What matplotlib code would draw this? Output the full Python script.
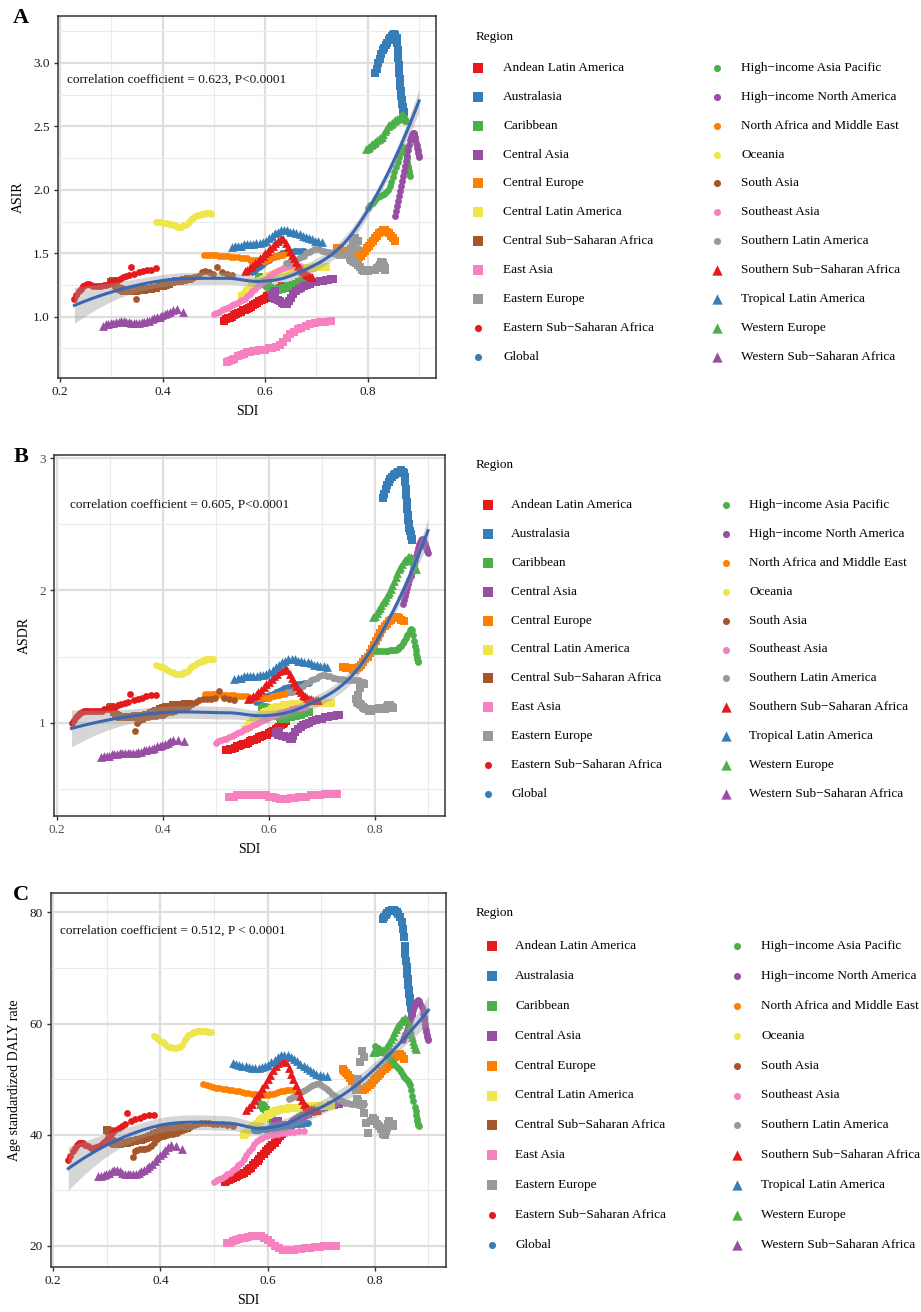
import numpy as np
import matplotlib
matplotlib.use("Agg")
import matplotlib.pyplot as plt
from matplotlib.ticker import MultipleLocator, FormatStrFormatter

plt.rcParams['font.family'] = ['Liberation Serif', 'DejaVu Serif']

regions = ['Andean Latin America', 'Australasia', 'Caribbean', 'Central Asia',
           'Central Europe', 'Central Latin America', 'Central Sub\u2212Saharan Africa',
           'East Asia', 'Eastern Europe', 'Eastern Sub\u2212Saharan Africa', 'Global',
           'High\u2212income Asia Pacific', 'High\u2212income North America',
           'North Africa and Middle East', 'Oceania', 'South Asia', 'Southeast Asia',
           'Southern Latin America', 'Southern Sub\u2212Saharan Africa',
           'Tropical Latin America', 'Western Europe', 'Western Sub\u2212Saharan Africa']

# SDI and rates per region, 1990-2019
sdi_andean = [0.520, 0.523, 0.527, 0.531, 0.536, 0.540, 0.543, 0.547, 0.552, 0.556,
              0.561, 0.565, 0.568, 0.572, 0.577, 0.581, 0.584, 0.588, 0.593, 0.597,
              0.601, 0.604, 0.608, 0.613, 0.617, 0.620, 0.623, 0.626, 0.629, 0.632]
asir_andean = [0.97, 0.98, 0.99, 0.99, 1.00, 1.01, 1.02, 1.03, 1.04, 1.05,
               1.05, 1.06, 1.07, 1.08, 1.09, 1.10, 1.11, 1.12, 1.13, 1.14,
               1.15, 1.16, 1.17, 1.18, 1.19, 1.20, 1.21, 1.22, 1.23, 1.24]
asdr_andean = [0.79, 0.79, 0.80, 0.80, 0.81, 0.82, 0.82, 0.83, 0.84, 0.84,
               0.85, 0.86, 0.87, 0.87, 0.88, 0.89, 0.89, 0.90, 0.91, 0.91,
               0.92, 0.93, 0.94, 0.95, 0.96, 0.97, 0.98, 0.99, 1.00, 1.01]
daly_andean = [31.5, 31.6, 31.8, 32.0, 32.2, 32.4, 32.6, 32.8, 33.0, 33.2,
               33.5, 33.8, 34.1, 34.5, 34.9, 35.3, 35.7, 36.2, 36.6, 37.0,
               37.4, 37.8, 38.2, 38.6, 39.0, 39.4, 39.8, 40.2, 40.5, 40.8]

sdi_australasia = [0.815, 0.817, 0.820, 0.823, 0.826, 0.829, 0.832, 0.835, 0.838, 0.841,
                   0.844, 0.847, 0.850, 0.852, 0.854, 0.856, 0.857, 0.858, 0.859, 0.860,
                   0.861, 0.862, 0.863, 0.864, 0.865, 0.866, 0.867, 0.868, 0.869, 0.870]
asir_australasia = [2.92, 2.95, 3.00, 3.03, 3.07, 3.10, 3.12, 3.14, 3.16, 3.18,
                    3.20, 3.21, 3.22, 3.23, 3.22, 3.20, 3.16, 3.10, 3.04, 2.98,
                    2.92, 2.87, 2.82, 2.78, 2.74, 2.71, 2.68, 2.65, 2.63, 2.61]
asdr_australasia = [2.70, 2.73, 2.77, 2.80, 2.82, 2.84, 2.86, 2.87, 2.88, 2.89,
                    2.90, 2.90, 2.91, 2.90, 2.89, 2.86, 2.82, 2.77, 2.72, 2.67,
                    2.62, 2.57, 2.53, 2.50, 2.47, 2.45, 2.43, 2.41, 2.39, 2.38]
daly_australasia = [78.8, 79.2, 79.6, 79.9, 80.2, 80.3, 80.4, 80.4, 80.3, 80.1,
                    79.8, 79.2, 78.3, 77.0, 75.6, 74.0, 72.6, 71.3, 70.1, 69.0,
                    68.0, 67.0, 66.1, 65.3, 64.6, 63.9, 63.3, 62.8, 62.3, 61.9]

sdi_caribbean = [0.588, 0.591, 0.594, 0.597, 0.600, 0.603, 0.606, 0.609, 0.612, 0.615,
                 0.618, 0.621, 0.624, 0.627, 0.630, 0.633, 0.636, 0.639, 0.642, 0.645,
                 0.648, 0.651, 0.654, 0.657, 0.660, 0.663, 0.666, 0.669, 0.672, 0.675]
asir_caribbean = [1.31, 1.30, 1.29, 1.28, 1.26, 1.25, 1.24, 1.23, 1.22, 1.22,
                  1.21, 1.21, 1.21, 1.22, 1.22, 1.22, 1.23, 1.23, 1.23, 1.24,
                  1.24, 1.24, 1.25, 1.25, 1.26, 1.26, 1.27, 1.27, 1.28, 1.28]
asdr_caribbean = [1.12, 1.12, 1.11, 1.11, 1.10, 1.10, 1.09, 1.08, 1.07, 1.06,
                  1.05, 1.04, 1.03, 1.03, 1.03, 1.03, 1.04, 1.04, 1.04, 1.05,
                  1.05, 1.05, 1.06, 1.06, 1.06, 1.07, 1.07, 1.08, 1.08, 1.08]
daly_caribbean = [45.3, 45.1, 44.8, 44.5, 44.1, 43.6, 43.0, 42.5, 42.0, 41.6,
                  41.3, 41.1, 41.0, 41.0, 41.1, 41.2, 41.4, 41.6, 41.8, 42.0,
                  42.2, 42.4, 42.6, 42.8, 43.0, 43.2, 43.4, 43.6, 43.8, 44.0]

sdi_central_asia = [0.620, 0.617, 0.615, 0.614, 0.615, 0.617, 0.620, 0.624, 0.628, 0.632,
                    0.636, 0.640, 0.643, 0.646, 0.650, 0.655, 0.660, 0.665, 0.670, 0.676,
                    0.682, 0.688, 0.694, 0.700, 0.706, 0.712, 0.718, 0.723, 0.728, 0.733]
asir_central_asia = [1.20, 1.19, 1.18, 1.17, 1.16, 1.15, 1.14, 1.13, 1.12, 1.11,
                     1.10, 1.10, 1.10, 1.12, 1.15, 1.18, 1.20, 1.22, 1.23, 1.24,
                     1.25, 1.26, 1.27, 1.27, 1.28, 1.28, 1.29, 1.29, 1.30, 1.30]
asdr_central_asia = [0.94, 0.93, 0.93, 0.92, 0.92, 0.91, 0.91, 0.90, 0.90, 0.89,
                     0.89, 0.88, 0.88, 0.90, 0.93, 0.95, 0.97, 0.98, 0.99, 1.00,
                     1.01, 1.02, 1.03, 1.03, 1.04, 1.04, 1.05, 1.05, 1.06, 1.06]
daly_central_asia = [42.5, 42.4, 42.3, 42.2, 42.1, 42.0, 41.9, 41.8, 41.8, 41.7,
                     41.7, 41.7, 41.8, 42.0, 42.3, 42.6, 42.9, 43.2, 43.5, 43.8,
                     44.1, 44.4, 44.6, 44.8, 45.0, 45.2, 45.3, 45.4, 45.5, 45.6]

sdi_central_europe = [0.740, 0.743, 0.746, 0.750, 0.754, 0.758, 0.762, 0.766, 0.770, 0.774,
                      0.778, 0.782, 0.786, 0.790, 0.794, 0.798, 0.802, 0.806, 0.810, 0.814,
                      0.818, 0.822, 0.826, 0.830, 0.834, 0.838, 0.842, 0.846, 0.850, 0.854]
asir_central_europe = [1.54, 1.53, 1.53, 1.52, 1.52, 1.51, 1.51, 1.50, 1.49, 1.48,
                       1.47, 1.47, 1.48, 1.50, 1.52, 1.54, 1.56, 1.58, 1.60, 1.62,
                       1.64, 1.66, 1.67, 1.68, 1.68, 1.67, 1.66, 1.64, 1.62, 1.60]
asdr_central_europe = [1.42, 1.42, 1.41, 1.41, 1.41, 1.40, 1.40, 1.41, 1.42, 1.44,
                       1.46, 1.48, 1.50, 1.53, 1.56, 1.59, 1.62, 1.65, 1.68, 1.71,
                       1.73, 1.75, 1.77, 1.78, 1.79, 1.80, 1.80, 1.79, 1.78, 1.77]
daly_central_europe = [51.8, 51.5, 51.1, 50.7, 50.2, 49.7, 49.2, 48.7, 48.3, 48.0,
                       48.0, 48.2, 48.6, 49.0, 49.4, 49.8, 50.2, 50.6, 51.0, 51.4,
                       51.8, 52.2, 52.6, 53.0, 53.5, 54.0, 54.4, 54.6, 54.2, 53.6]

sdi_central_latam = [0.555, 0.560, 0.565, 0.570, 0.575, 0.580, 0.585, 0.590, 0.595, 0.600,
                     0.605, 0.610, 0.616, 0.622, 0.628, 0.634, 0.640, 0.646, 0.652, 0.658,
                     0.664, 0.670, 0.676, 0.682, 0.688, 0.694, 0.700, 0.706, 0.712, 0.718]
asir_central_latam = [1.16, 1.18, 1.20, 1.22, 1.24, 1.26, 1.27, 1.28, 1.29, 1.30,
                      1.31, 1.32, 1.33, 1.34, 1.35, 1.35, 1.36, 1.36, 1.37, 1.37,
                      1.37, 1.38, 1.38, 1.38, 1.38, 1.38, 1.39, 1.39, 1.39, 1.39]
asdr_central_latam = [0.95, 0.97, 0.99, 1.01, 1.02, 1.04, 1.05, 1.07, 1.08, 1.09,
                      1.10, 1.11, 1.12, 1.12, 1.13, 1.13, 1.13, 1.14, 1.14, 1.14,
                      1.14, 1.14, 1.15, 1.15, 1.15, 1.15, 1.15, 1.15, 1.15, 1.15]
daly_central_latam = [40.0, 40.4, 40.8, 41.2, 41.6, 42.0, 42.4, 42.8, 43.2, 43.5,
                      43.8, 44.1, 44.3, 44.5, 44.6, 44.7, 44.8, 44.8, 44.9, 44.9,
                      45.0, 45.0, 45.0, 45.1, 45.1, 45.1, 45.2, 45.2, 45.2, 45.2]

sdi_central_ssa = [0.300, 0.303, 0.306, 0.309, 0.312, 0.316, 0.320, 0.324, 0.328, 0.333,
                   0.338, 0.343, 0.348, 0.353, 0.358, 0.363, 0.368, 0.373, 0.378, 0.383,
                   0.388, 0.394, 0.400, 0.406, 0.412, 0.419, 0.426, 0.434, 0.442, 0.450]
asir_central_ssa = [1.27, 1.28, 1.27, 1.25, 1.23, 1.22, 1.21, 1.20, 1.20, 1.20,
                    1.20, 1.20, 1.20, 1.21, 1.21, 1.21, 1.22, 1.22, 1.22, 1.23,
                    1.23, 1.24, 1.24, 1.25, 1.26, 1.27, 1.28, 1.28, 1.29, 1.30]
asdr_central_ssa = [1.11, 1.12, 1.10, 1.08, 1.06, 1.05, 1.04, 1.04, 1.04, 1.04,
                    1.04, 1.04, 1.05, 1.05, 1.05, 1.05, 1.06, 1.06, 1.07, 1.08,
                    1.09, 1.10, 1.11, 1.12, 1.12, 1.13, 1.13, 1.13, 1.14, 1.14]
daly_central_ssa = [40.8, 40.6, 39.6, 38.8, 38.5, 38.4, 38.4, 38.4, 38.5, 38.5,
                    38.6, 38.7, 38.8, 38.9, 39.0, 39.1, 39.2, 39.4, 39.6, 39.8,
                    40.1, 40.4, 40.7, 41.0, 41.2, 41.3, 41.3, 41.2, 41.2, 41.2]

sdi_east_asia = [0.525, 0.530, 0.535, 0.540, 0.546, 0.552, 0.558, 0.564, 0.570, 0.576,
                 0.582, 0.588, 0.594, 0.600, 0.607, 0.614, 0.621, 0.628, 0.635, 0.642,
                 0.649, 0.656, 0.663, 0.670, 0.679, 0.688, 0.697, 0.706, 0.716, 0.728]
asir_east_asia = [0.64, 0.65, 0.66, 0.67, 0.69, 0.70, 0.71, 0.72, 0.72, 0.73,
                  0.73, 0.74, 0.74, 0.74, 0.75, 0.75, 0.76, 0.78, 0.80, 0.83,
                  0.86, 0.88, 0.90, 0.91, 0.93, 0.94, 0.95, 0.96, 0.96, 0.97]
asdr_east_asia = [0.44, 0.44, 0.44, 0.45, 0.45, 0.45, 0.45, 0.45, 0.45, 0.45,
                  0.45, 0.45, 0.45, 0.44, 0.44, 0.43, 0.42, 0.42, 0.42, 0.43,
                  0.43, 0.44, 0.44, 0.44, 0.45, 0.45, 0.45, 0.46, 0.46, 0.46]
daly_east_asia = [20.5, 20.6, 20.8, 21.0, 21.2, 21.4, 21.5, 21.6, 21.7, 21.8,
                  21.8, 21.7, 21.4, 21.0, 20.5, 20.0, 19.6, 19.3, 19.2, 19.2,
                  19.3, 19.4, 19.5, 19.6, 19.7, 19.8, 19.8, 19.9, 19.9, 19.9]

sdi_eastern_europe = [0.780, 0.776, 0.772, 0.768, 0.765, 0.766, 0.768, 0.771, 0.774, 0.777,
                      0.780, 0.784, 0.788, 0.792, 0.796, 0.800, 0.804, 0.808, 0.812, 0.815,
                      0.818, 0.821, 0.823, 0.825, 0.827, 0.829, 0.831, 0.832, 0.833, 0.834]
asir_eastern_europe = [1.60, 1.62, 1.58, 1.53, 1.48, 1.46, 1.45, 1.44, 1.43, 1.42,
                       1.41, 1.39, 1.37, 1.36, 1.36, 1.36, 1.37, 1.37, 1.37, 1.37,
                       1.38, 1.39, 1.41, 1.43, 1.43, 1.42, 1.40, 1.39, 1.38, 1.37]
asdr_eastern_europe = [1.29, 1.30, 1.26, 1.21, 1.18, 1.16, 1.15, 1.14, 1.13, 1.12,
                       1.11, 1.10, 1.09, 1.09, 1.10, 1.10, 1.10, 1.11, 1.11, 1.10,
                       1.10, 1.11, 1.12, 1.13, 1.13, 1.13, 1.12, 1.12, 1.11, 1.11]
daly_eastern_europe = [54.0, 55.0, 53.0, 50.0, 48.0, 46.5, 46.0, 45.6, 45.4, 45.6,
                       44.0, 42.2, 40.4, 42.5, 43.0, 42.6, 42.0, 41.5, 41.0, 40.2,
                       40.0, 40.6, 41.2, 42.0, 42.4, 42.0, 41.6, 41.8, 42.0, 41.6]

sdi_eastern_ssa = [0.228, 0.232, 0.236, 0.240, 0.244, 0.248, 0.252, 0.256, 0.260, 0.265,
                   0.270, 0.275, 0.280, 0.285, 0.290, 0.295, 0.300, 0.305, 0.310, 0.316,
                   0.322, 0.328, 0.334, 0.338, 0.345, 0.353, 0.361, 0.369, 0.378, 0.388]
asir_eastern_ssa = [1.14, 1.17, 1.20, 1.22, 1.24, 1.25, 1.26, 1.26, 1.25, 1.24,
                    1.24, 1.24, 1.24, 1.25, 1.25, 1.26, 1.27, 1.28, 1.29, 1.30,
                    1.31, 1.32, 1.33, 1.39, 1.34, 1.35, 1.36, 1.37, 1.37, 1.38]
asdr_eastern_ssa = [1.00, 1.02, 1.04, 1.06, 1.07, 1.08, 1.09, 1.09, 1.09, 1.09,
                    1.09, 1.09, 1.09, 1.09, 1.10, 1.10, 1.11, 1.12, 1.12, 1.13,
                    1.14, 1.15, 1.16, 1.22, 1.17, 1.18, 1.19, 1.20, 1.21, 1.21]
daly_eastern_ssa = [35.4, 36.2, 37.0, 37.7, 38.2, 38.5, 38.6, 38.5, 38.2, 37.9,
                    37.7, 37.7, 37.8, 38.0, 38.3, 38.7, 39.2, 39.8, 40.3, 40.8,
                    41.2, 41.6, 42.0, 44.0, 42.4, 42.8, 43.1, 43.3, 43.5, 43.6]

sdi_global = [0.575, 0.578, 0.581, 0.584, 0.587, 0.590, 0.593, 0.596, 0.599, 0.602,
              0.605, 0.608, 0.611, 0.614, 0.617, 0.620, 0.623, 0.626, 0.629, 0.632,
              0.636, 0.640, 0.644, 0.648, 0.652, 0.656, 0.661, 0.666, 0.671, 0.676]
asir_global = [1.35, 1.36, 1.37, 1.38, 1.39, 1.40, 1.41, 1.42, 1.43, 1.44,
               1.45, 1.45, 1.46, 1.47, 1.47, 1.48, 1.48, 1.49, 1.49, 1.50,
               1.50, 1.51, 1.51, 1.51, 1.51, 1.52, 1.52, 1.52, 1.52, 1.52]
asdr_global = [1.16, 1.17, 1.17, 1.18, 1.18, 1.19, 1.19, 1.20, 1.20, 1.21,
               1.21, 1.22, 1.22, 1.23, 1.23, 1.24, 1.25, 1.25, 1.26, 1.26,
               1.27, 1.27, 1.28, 1.28, 1.29, 1.29, 1.29, 1.30, 1.30, 1.30]
daly_global = [40.8, 40.8, 40.9, 40.9, 41.0, 41.0, 41.0, 41.1, 41.1, 41.2,
               41.2, 41.3, 41.3, 41.4, 41.4, 41.5, 41.5, 41.6, 41.6, 41.7,
               41.7, 41.8, 41.8, 41.9, 41.9, 42.0, 42.0, 42.0, 42.1, 42.1]

sdi_hi_asia = [0.800, 0.805, 0.810, 0.815, 0.820, 0.824, 0.828, 0.832, 0.836, 0.840,
               0.843, 0.846, 0.849, 0.852, 0.855, 0.858, 0.861, 0.864, 0.866, 0.868,
               0.870, 0.872, 0.874, 0.876, 0.877, 0.878, 0.879, 0.880, 0.881, 0.882]
asir_hi_asia = [1.86, 1.88, 1.90, 1.92, 1.94, 1.95, 1.96, 1.97, 1.98, 2.00,
                2.03, 2.06, 2.10, 2.14, 2.18, 2.22, 2.26, 2.30, 2.33, 2.34,
                2.33, 2.31, 2.28, 2.25, 2.22, 2.19, 2.17, 2.15, 2.13, 2.11]
asdr_hi_asia = [1.54, 1.54, 1.54, 1.54, 1.54, 1.54, 1.55, 1.55, 1.55, 1.55,
                1.56, 1.57, 1.58, 1.60, 1.62, 1.64, 1.66, 1.68, 1.70, 1.71,
                1.70, 1.66, 1.62, 1.58, 1.55, 1.52, 1.50, 1.48, 1.47, 1.46]
daly_hi_asia = [56.0, 55.6, 55.2, 54.8, 54.4, 54.0, 53.6, 53.2, 52.8, 52.4,
                52.0, 51.6, 51.2, 50.8, 50.4, 50.0, 49.7, 49.4, 49.0, 48.0,
                47.0, 46.0, 45.0, 44.2, 43.5, 42.9, 42.4, 42.0, 41.7, 41.5]

sdi_hi_na = [0.853, 0.855, 0.857, 0.859, 0.861, 0.863, 0.865, 0.867, 0.869, 0.871,
             0.873, 0.875, 0.877, 0.879, 0.881, 0.883, 0.885, 0.887, 0.889, 0.890,
             0.891, 0.892, 0.893, 0.894, 0.895, 0.896, 0.897, 0.898, 0.899, 0.900]
asir_hi_na = [1.79, 1.83, 1.87, 1.91, 1.95, 1.99, 2.03, 2.07, 2.11, 2.15,
              2.19, 2.23, 2.27, 2.31, 2.35, 2.39, 2.42, 2.44, 2.45, 2.45,
              2.44, 2.42, 2.40, 2.37, 2.35, 2.33, 2.31, 2.29, 2.27, 2.26]
asdr_hi_na = [1.90, 1.93, 1.96, 1.99, 2.02, 2.05, 2.08, 2.11, 2.14, 2.17,
              2.20, 2.23, 2.26, 2.29, 2.32, 2.35, 2.37, 2.38, 2.39, 2.39,
              2.38, 2.37, 2.36, 2.35, 2.34, 2.33, 2.32, 2.31, 2.30, 2.28]
daly_hi_na = [57.0, 57.6, 58.2, 58.8, 59.4, 60.0, 60.6, 61.2, 61.8, 62.4,
              63.0, 63.5, 63.9, 64.1, 64.2, 64.0, 63.6, 63.0, 62.4, 61.8,
              61.2, 60.6, 60.0, 59.4, 58.9, 58.4, 58.0, 57.6, 57.3, 57.1]

sdi_name = [0.480, 0.486, 0.492, 0.498, 0.504, 0.510, 0.516, 0.522, 0.528, 0.534,
            0.540, 0.546, 0.552, 0.558, 0.564, 0.570, 0.576, 0.582, 0.588, 0.594,
            0.600, 0.605, 0.610, 0.615, 0.620, 0.625, 0.630, 0.635, 0.640, 0.645]
asir_name = [1.49, 1.49, 1.49, 1.49, 1.49, 1.48, 1.48, 1.48, 1.48, 1.47,
             1.47, 1.47, 1.46, 1.46, 1.46, 1.45, 1.45, 1.45, 1.44, 1.44,
             1.44, 1.45, 1.46, 1.47, 1.48, 1.48, 1.49, 1.49, 1.50, 1.50]
asdr_name = [1.22, 1.22, 1.22, 1.22, 1.22, 1.21, 1.21, 1.21, 1.21, 1.21,
             1.20, 1.20, 1.20, 1.20, 1.19, 1.19, 1.19, 1.19, 1.19, 1.19,
             1.19, 1.20, 1.20, 1.21, 1.21, 1.22, 1.22, 1.23, 1.23, 1.24]
daly_name = [49.2, 49.0, 48.8, 48.6, 48.5, 48.4, 48.3, 48.2, 48.1, 48.0,
             47.9, 47.8, 47.7, 47.6, 47.5, 47.4, 47.3, 47.3, 47.2, 47.2,
             47.2, 47.3, 47.4, 47.5, 47.7, 47.8, 47.9, 48.0, 48.1, 48.1]

sdi_oceania = [0.388, 0.392, 0.396, 0.400, 0.404, 0.408, 0.412, 0.416, 0.420, 0.424,
               0.428, 0.432, 0.436, 0.440, 0.444, 0.448, 0.452, 0.456, 0.460, 0.464,
               0.468, 0.471, 0.474, 0.477, 0.480, 0.483, 0.486, 0.489, 0.492, 0.495]
asir_oceania = [1.75, 1.75, 1.75, 1.74, 1.74, 1.74, 1.73, 1.73, 1.72, 1.72,
                1.71, 1.71, 1.71, 1.72, 1.72, 1.73, 1.75, 1.77, 1.78, 1.79,
                1.80, 1.80, 1.81, 1.81, 1.81, 1.82, 1.82, 1.82, 1.82, 1.81]
asdr_oceania = [1.44, 1.43, 1.42, 1.42, 1.41, 1.40, 1.39, 1.38, 1.38, 1.37,
                1.37, 1.37, 1.37, 1.38, 1.38, 1.39, 1.41, 1.43, 1.44, 1.45,
                1.46, 1.46, 1.47, 1.47, 1.48, 1.48, 1.48, 1.48, 1.48, 1.48]
daly_oceania = [57.8, 57.5, 57.2, 56.9, 56.6, 56.3, 56.0, 55.8, 55.7, 55.6,
                55.6, 55.7, 55.8, 56.2, 56.8, 57.4, 57.9, 58.2, 58.4, 58.5,
                58.6, 58.6, 58.7, 58.7, 58.7, 58.6, 58.6, 58.5, 58.5, 58.5]

sdi_south_asia = [0.348, 0.352, 0.357, 0.362, 0.367, 0.372, 0.377, 0.382, 0.388, 0.394,
                  0.400, 0.406, 0.412, 0.418, 0.424, 0.430, 0.436, 0.442, 0.448, 0.455,
                  0.462, 0.469, 0.476, 0.483, 0.490, 0.498, 0.506, 0.515, 0.525, 0.535]
asir_south_asia = [1.14, 1.20, 1.21, 1.22, 1.22, 1.22, 1.23, 1.23, 1.24, 1.24,
                   1.25, 1.26, 1.27, 1.27, 1.28, 1.28, 1.29, 1.29, 1.30, 1.30,
                   1.31, 1.32, 1.35, 1.36, 1.35, 1.34, 1.39, 1.35, 1.34, 1.33]
asdr_south_asia = [0.94, 1.00, 1.02, 1.03, 1.04, 1.04, 1.05, 1.05, 1.05, 1.06,
                   1.06, 1.07, 1.08, 1.08, 1.09, 1.10, 1.10, 1.11, 1.12, 1.14,
                   1.16, 1.17, 1.18, 1.18, 1.18, 1.19, 1.24, 1.19, 1.18, 1.17]
daly_south_asia = [36.0, 37.0, 37.2, 37.4, 37.4, 37.5, 37.6, 38.0, 38.6, 39.2,
                   39.6, 39.8, 40.0, 40.1, 40.2, 40.4, 40.6, 40.8, 41.0, 41.4,
                   41.8, 42.0, 42.2, 42.2, 42.1, 42.0, 42.0, 42.0, 41.8, 41.6]

sdi_southeast_asia = [0.500, 0.505, 0.510, 0.515, 0.520, 0.525, 0.530, 0.535, 0.540, 0.545,
                      0.550, 0.555, 0.560, 0.565, 0.570, 0.575, 0.580, 0.585, 0.590, 0.596,
                      0.602, 0.608, 0.614, 0.620, 0.627, 0.634, 0.641, 0.649, 0.658, 0.668]
asir_southeast_asia = [1.02, 1.03, 1.04, 1.05, 1.06, 1.07, 1.08, 1.09, 1.10, 1.11,
                       1.12, 1.13, 1.14, 1.16, 1.18, 1.20, 1.22, 1.24, 1.26, 1.28,
                       1.30, 1.32, 1.34, 1.35, 1.37, 1.38, 1.39, 1.40, 1.40, 1.40]
asdr_southeast_asia = [0.85, 0.86, 0.87, 0.88, 0.88, 0.89, 0.90, 0.91, 0.92, 0.93,
                       0.94, 0.95, 0.96, 0.97, 0.98, 0.99, 1.00, 1.01, 1.02, 1.03,
                       1.04, 1.05, 1.06, 1.07, 1.08, 1.09, 1.10, 1.11, 1.11, 1.12]
daly_southeast_asia = [31.5, 31.8, 32.0, 32.3, 32.6, 32.9, 33.2, 33.6, 34.0, 34.5,
                       35.0, 35.6, 36.3, 37.0, 37.7, 38.3, 38.8, 39.2, 39.5, 39.7,
                       39.9, 40.0, 40.1, 40.2, 40.3, 40.4, 40.5, 40.5, 40.6, 40.6]

sdi_southern_latam = [0.640, 0.644, 0.648, 0.652, 0.656, 0.660, 0.665, 0.670, 0.675, 0.680,
                      0.685, 0.690, 0.695, 0.700, 0.705, 0.710, 0.715, 0.720, 0.725, 0.730,
                      0.735, 0.740, 0.745, 0.750, 0.755, 0.760, 0.765, 0.770, 0.775, 0.780]
asir_southern_latam = [1.42, 1.42, 1.43, 1.43, 1.44, 1.45, 1.46, 1.47, 1.48, 1.50,
                       1.51, 1.52, 1.53, 1.53, 1.53, 1.52, 1.52, 1.51, 1.51, 1.50,
                       1.50, 1.49, 1.49, 1.49, 1.49, 1.50, 1.51, 1.52, 1.53, 1.54]
asdr_southern_latam = [1.23, 1.23, 1.24, 1.25, 1.26, 1.27, 1.28, 1.30, 1.31, 1.32,
                       1.33, 1.34, 1.35, 1.36, 1.36, 1.35, 1.35, 1.34, 1.34, 1.33,
                       1.33, 1.33, 1.32, 1.32, 1.32, 1.32, 1.32, 1.32, 1.31, 1.31]
daly_southern_latam = [46.5, 46.6, 46.8, 47.0, 47.2, 47.5, 47.8, 48.1, 48.4, 48.7,
                       49.0, 49.2, 49.3, 49.0, 48.6, 48.2, 47.8, 47.4, 47.0, 46.6,
                       46.2, 46.0, 45.8, 45.7, 45.6, 45.6, 45.6, 45.6, 45.6, 45.6]

sdi_southern_ssa = [0.560, 0.565, 0.570, 0.575, 0.580, 0.585, 0.590, 0.595, 0.600, 0.605,
                    0.610, 0.615, 0.620, 0.625, 0.630, 0.635, 0.640, 0.644, 0.648, 0.652,
                    0.656, 0.660, 0.664, 0.668, 0.672, 0.676, 0.680, 0.684, 0.688, 0.692]
asir_southern_ssa = [1.36, 1.37, 1.39, 1.40, 1.42, 1.44, 1.46, 1.48, 1.50, 1.52,
                     1.54, 1.56, 1.58, 1.60, 1.62, 1.61, 1.58, 1.55, 1.52, 1.49,
                     1.46, 1.43, 1.40, 1.38, 1.36, 1.35, 1.34, 1.33, 1.32, 1.31]
asdr_southern_ssa = [1.18, 1.19, 1.20, 1.21, 1.23, 1.25, 1.27, 1.29, 1.31, 1.33,
                     1.35, 1.37, 1.39, 1.40, 1.41, 1.40, 1.37, 1.34, 1.31, 1.28,
                     1.25, 1.23, 1.21, 1.20, 1.19, 1.18, 1.18, 1.17, 1.17, 1.17]
daly_southern_ssa = [44.5, 45.0, 45.6, 46.2, 46.9, 47.6, 48.4, 49.2, 50.0, 50.8,
                     51.6, 52.3, 52.9, 53.3, 53.4, 53.0, 52.0, 51.0, 50.0, 49.0,
                     48.0, 47.0, 46.2, 45.6, 45.2, 44.9, 44.7, 44.6, 44.5, 44.5]

sdi_tropical_latam = [0.535, 0.541, 0.547, 0.553, 0.559, 0.565, 0.571, 0.577, 0.583, 0.589,
                      0.595, 0.601, 0.607, 0.613, 0.619, 0.625, 0.631, 0.637, 0.643, 0.649,
                      0.655, 0.661, 0.667, 0.673, 0.679, 0.685, 0.691, 0.697, 0.703, 0.710]
asir_tropical_latam = [1.55, 1.56, 1.56, 1.56, 1.57, 1.57, 1.57, 1.57, 1.58, 1.58,
                       1.59, 1.60, 1.62, 1.64, 1.66, 1.67, 1.68, 1.68, 1.68, 1.67,
                       1.67, 1.66, 1.65, 1.64, 1.63, 1.62, 1.61, 1.60, 1.60, 1.59]
asdr_tropical_latam = [1.33, 1.34, 1.34, 1.35, 1.35, 1.35, 1.35, 1.35, 1.36, 1.36,
                       1.37, 1.38, 1.40, 1.42, 1.44, 1.46, 1.47, 1.48, 1.48, 1.48,
                       1.47, 1.47, 1.46, 1.46, 1.45, 1.44, 1.44, 1.43, 1.43, 1.42]
daly_tropical_latam = [52.9, 52.8, 52.6, 52.4, 52.3, 52.1, 52.0, 52.0, 52.0, 52.1,
                       52.3, 52.6, 53.0, 53.5, 54.0, 54.3, 54.4, 54.3, 54.0, 53.6,
                       53.2, 52.8, 52.4, 52.0, 51.6, 51.3, 51.0, 50.8, 50.6, 50.5]

sdi_western_europe = [0.797, 0.800, 0.803, 0.806, 0.809, 0.812, 0.815, 0.818, 0.821, 0.824,
                      0.827, 0.830, 0.833, 0.836, 0.839, 0.842, 0.845, 0.848, 0.851, 0.854,
                      0.857, 0.860, 0.863, 0.865, 0.867, 0.869, 0.871, 0.873, 0.875, 0.877]
asir_western_europe = [2.32, 2.33, 2.34, 2.35, 2.36, 2.37, 2.38, 2.39, 2.40, 2.41,
                       2.42, 2.44, 2.46, 2.48, 2.50, 2.51, 2.52, 2.53, 2.54, 2.55,
                       2.56, 2.57, 2.58, 2.59, 2.59, 2.59, 2.58, 2.57, 2.56, 2.55]
asdr_western_europe = [1.80, 1.81, 1.83, 1.85, 1.87, 1.89, 1.91, 1.93, 1.95, 1.97,
                       1.99, 2.01, 2.04, 2.07, 2.10, 2.13, 2.16, 2.18, 2.20, 2.22,
                       2.23, 2.24, 2.25, 2.25, 2.25, 2.24, 2.22, 2.20, 2.18, 2.16]
daly_western_europe = [54.8, 54.9, 55.0, 55.0, 55.1, 55.2, 55.3, 55.5, 55.8, 56.2,
                       56.7, 57.2, 57.8, 58.4, 59.0, 59.5, 60.0, 60.4, 60.7, 60.9,
                       61.0, 60.6, 59.8, 59.0, 58.2, 57.5, 56.9, 56.3, 55.8, 55.4]

sdi_western_ssa = [0.284, 0.289, 0.294, 0.299, 0.304, 0.309, 0.314, 0.319, 0.324, 0.329,
                   0.334, 0.339, 0.344, 0.349, 0.354, 0.359, 0.364, 0.369, 0.374, 0.379,
                   0.384, 0.389, 0.394, 0.399, 0.404, 0.409, 0.414, 0.420, 0.428, 0.440]
asir_western_ssa = [0.93, 0.94, 0.94, 0.95, 0.95, 0.96, 0.96, 0.97, 0.97, 0.96,
                    0.96, 0.95, 0.95, 0.95, 0.95, 0.96, 0.96, 0.97, 0.97, 0.98,
                    0.99, 1.00, 1.00, 1.01, 1.02, 1.03, 1.04, 1.05, 1.06, 1.04]
asdr_western_ssa = [0.74, 0.75, 0.75, 0.75, 0.76, 0.76, 0.76, 0.77, 0.77, 0.77,
                    0.77, 0.77, 0.77, 0.77, 0.78, 0.78, 0.79, 0.79, 0.80, 0.80,
                    0.81, 0.82, 0.82, 0.83, 0.84, 0.85, 0.86, 0.87, 0.87, 0.86]
daly_western_ssa = [32.5, 32.6, 32.8, 33.0, 33.2, 33.4, 33.6, 33.6, 33.4, 33.2,
                    33.0, 33.0, 32.9, 32.9, 33.0, 33.2, 33.4, 33.7, 34.0, 34.4,
                    34.8, 35.3, 35.8, 36.3, 36.8, 37.3, 37.8, 38.2, 38.0, 37.5]

sdi = [sdi_andean, sdi_australasia, sdi_caribbean, sdi_central_asia, sdi_central_europe,
       sdi_central_latam, sdi_central_ssa, sdi_east_asia, sdi_eastern_europe,
       sdi_eastern_ssa, sdi_global, sdi_hi_asia, sdi_hi_na, sdi_name, sdi_oceania,
       sdi_south_asia, sdi_southeast_asia, sdi_southern_latam, sdi_southern_ssa,
       sdi_tropical_latam, sdi_western_europe, sdi_western_ssa]
asir = [asir_andean, asir_australasia, asir_caribbean, asir_central_asia, asir_central_europe,
        asir_central_latam, asir_central_ssa, asir_east_asia, asir_eastern_europe,
        asir_eastern_ssa, asir_global, asir_hi_asia, asir_hi_na, asir_name, asir_oceania,
        asir_south_asia, asir_southeast_asia, asir_southern_latam, asir_southern_ssa,
        asir_tropical_latam, asir_western_europe, asir_western_ssa]
asdr = [asdr_andean, asdr_australasia, asdr_caribbean, asdr_central_asia, asdr_central_europe,
        asdr_central_latam, asdr_central_ssa, asdr_east_asia, asdr_eastern_europe,
        asdr_eastern_ssa, asdr_global, asdr_hi_asia, asdr_hi_na, asdr_name, asdr_oceania,
        asdr_south_asia, asdr_southeast_asia, asdr_southern_latam, asdr_southern_ssa,
        asdr_tropical_latam, asdr_western_europe, asdr_western_ssa]
daly = [daly_andean, daly_australasia, daly_caribbean, daly_central_asia, daly_central_europe,
        daly_central_latam, daly_central_ssa, daly_east_asia, daly_eastern_europe,
        daly_eastern_ssa, daly_global, daly_hi_asia, daly_hi_na, daly_name, daly_oceania,
        daly_south_asia, daly_southeast_asia, daly_southern_latam, daly_southern_ssa,
        daly_tropical_latam, daly_western_europe, daly_western_ssa]

set1 = ['#E41A1C', '#377EB8', '#4DAF4A', '#984EA3', '#FF7F00',
        '#EEE64A', '#A65628', '#F781BF', '#999999']
colors = [set1[i % 9] for i in range(len(regions))]
shapes = ['s'] * 9 + ['o'] * 9 + ['^'] * 4
msize = {'s': 34, 'o': 24, '^': 40}
key_size = {'s': 46, 'o': 26, '^': 55}


def loess(x, y, grid, span=0.75, cell=0.2):
    """Local quadratic smoother evaluated on kd-tree vertices and joined by
    cubic Hermite pieces, with a pointwise standard error."""
    n = len(x)
    q = int(np.floor(n * span))
    xs = np.sort(x)

    def local_rows(x0):
        d = np.abs(x - x0)
        h = np.sort(d)[q - 1]
        w = np.clip(1 - (d / h) ** 3, 0, None) ** 3
        X = np.column_stack([np.ones(n), x - x0, (x - x0) ** 2])
        XtW = X.T * w
        S = np.linalg.solve(XtW @ X, XtW)
        return S[0], S[1]

    # cell boundaries: split at the median until a cell holds few enough points
    fc = int(np.floor(n * span * cell))
    margin = 0.005 * (xs[-1] - xs[0])
    verts = {xs[0] - margin, xs[-1] + margin}

    def split(lo, hi):
        if hi - lo + 1 <= fc:
            return
        m = (lo + hi) // 2
        verts.add(0.5 * (xs[m] + xs[m + 1]))
        split(lo, m)
        split(m + 1, hi)

    split(0, n - 1)
    verts = np.array(sorted(verts))
    val_rows, der_rows = zip(*[local_rows(v) for v in verts])
    val_rows, der_rows = np.array(val_rows), np.array(der_rows)

    def operator(pts):
        out = np.empty((len(pts), n))
        for k, p in enumerate(pts):
            i = min(max(np.searchsorted(verts, p) - 1, 0), len(verts) - 2)
            h = verts[i + 1] - verts[i]
            t = (p - verts[i]) / h
            h00 = 2 * t ** 3 - 3 * t ** 2 + 1
            h10 = t ** 3 - 2 * t ** 2 + t
            h01 = -2 * t ** 3 + 3 * t ** 2
            h11 = t ** 3 - t ** 2
            out[k] = (h00 * val_rows[i] + h10 * h * der_rows[i]
                      + h01 * val_rows[i + 1] + h11 * h * der_rows[i + 1])
        return out

    L = operator(x)
    resid = y - L @ y
    one_delta = np.sum((np.eye(n) - L) ** 2)
    sigma = np.sqrt(np.sum(resid ** 2) / one_delta)
    G = operator(grid)
    fit = G @ y
    se = sigma * np.sqrt(np.sum(G ** 2, axis=1))
    return fit, se


panels = [
    dict(letter='A', values=asir, ylabel='ASIR',
         note='correlation coefficient = 0.623, P<0.0001',
         rect=[58, 16, 436, 378], xlim=(0.196, 0.933), ylim=(0.517, 3.37),
         ymajor=0.5, yminor=0.25, yfmt='%.1f', note_xy=(67, 80), tick_color='#1a1a1a',
         legend=(37, 68, 28.85, 478, 503, 717, 741)),
    dict(letter='B', values=asdr, ylabel='ASDR',
         note='correlation coefficient = 0.605, P<0.0001',
         rect=[54, 455, 445, 816], xlim=(0.195, 0.932), ylim=(0.294, 3.025),
         ymajor=1, yminor=0.5, yfmt='%d', note_xy=(70, 505), tick_color='#4d4d4d',
         legend=(465, 505, 28.9, 488, 511, 726, 749)),
    dict(letter='C', values=daly, ylabel='Age standardized DALY rate',
         note='correlation coefficient = 0.512, P < 0.0001',
         rect=[51, 893, 446, 1267], xlim=(0.1957, 0.9327), ylim=(16.2, 83.5),
         ymajor=20, yminor=10, yfmt='%d', note_xy=(60, 931), tick_color='#1a1a1a',
         legend=(913, 946, 29.9, 492, 515, 737, 761)),
]

W, H = 921, 1312
fig = plt.figure(figsize=(W / 100, H / 100), dpi=100)
lax = fig.add_axes([0, 0, 1, 1], zorder=10)
lax.set_xlim(0, W)
lax.set_ylim(H, 0)
lax.axis('off')

for p in panels:
    l, t, r, b = p['rect']
    ax = fig.add_axes([l / W, 1 - b / H, (r - l) / W, (b - t) / H])
    for name, xs, ys, c, m in zip(regions, sdi, p['values'], colors, shapes):
        ax.scatter(xs, ys, s=msize[m], marker=m, color=c, linewidths=0, zorder=3)

    x_all = np.concatenate([np.asarray(v, float) for v in sdi])
    y_all = np.concatenate([np.asarray(v, float) for v in p['values']])
    grid = np.linspace(x_all.min(), x_all.max(), 120)
    fit, se = loess(x_all, y_all, grid)
    ax.fill_between(grid, fit - 1.96 * se, fit + 1.96 * se, color='#999999',
                    alpha=0.4, linewidth=0, zorder=4)
    ax.plot(grid, fit, color='#3A66B2', lw=2.2, zorder=5)

    ax.set_xlim(*p['xlim'])
    ax.set_ylim(*p['ylim'])
    ax.xaxis.set_major_locator(MultipleLocator(0.2))
    ax.xaxis.set_minor_locator(MultipleLocator(0.1))
    ax.xaxis.set_major_formatter(FormatStrFormatter('%.1f'))
    ax.yaxis.set_major_locator(MultipleLocator(p['ymajor']))
    ax.yaxis.set_minor_locator(MultipleLocator(p['yminor']))
    ax.yaxis.set_major_formatter(FormatStrFormatter(p['yfmt']))
    ax.grid(which='major', color='#dedede', lw=1.6)
    ax.grid(which='minor', color='#ebebeb', lw=0.8)
    ax.set_axisbelow(True)
    ax.tick_params(which='major', length=3, width=1, color='#333333', pad=3,
                   labelsize=9.5, labelcolor=p['tick_color'])
    ax.tick_params(which='minor', length=0)
    for s in ax.spines.values():
        s.set_color('#333333')
        s.set_linewidth(1.1)
    ax.set_xlabel('SDI', fontsize=10, labelpad=5)
    ax.set_ylabel(p['ylabel'], fontsize=10, labelpad=6)

    lax.text(p['note_xy'][0], p['note_xy'][1], p['note'], fontsize=9.5,
             ha='left', va='center', color='#111111')
    lax.text(21, t + 2, p['letter'], fontsize=16, fontweight='bold',
             ha='center', va='center')

    # region key, two columns of eleven
    title_y, row0, step, mx1, tx1, mx2, tx2 = p['legend']
    lax.text(476, title_y, 'Region', fontsize=9.5, ha='left', va='center')
    for i, (name, c, m) in enumerate(zip(regions, colors, shapes)):
        col, row = divmod(i, 11)
        y = row0 + row * step
        mx, tx = (mx1, tx1) if col == 0 else (mx2, tx2)
        lax.scatter([mx], [y], s=key_size[m], marker=m, color=c, linewidths=0)
        lax.text(tx, y, name, fontsize=9.5, ha='left', va='center')

fig.savefig('out.png', dpi=100)
